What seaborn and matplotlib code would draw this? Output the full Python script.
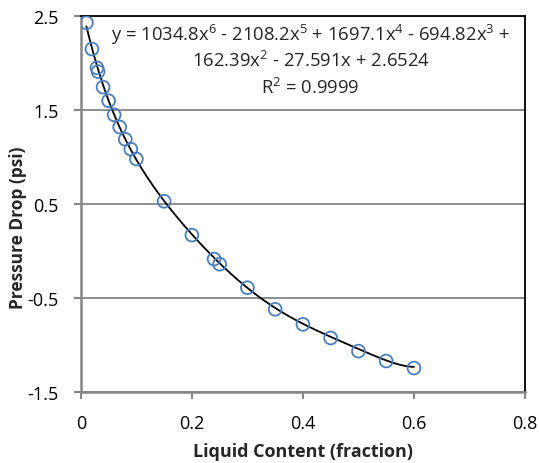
import numpy as np
import matplotlib.pyplot as plt
import seaborn as sns

sns.set_theme(style="white")
plt.rcParams['font.family'] = ['Open Sans', 'DejaVu Sans']
plt.rcParams['mathtext.fontset'] = 'custom'
plt.rcParams['mathtext.rm'] = 'Open Sans'
plt.rcParams['mathtext.it'] = 'Open Sans'

# datos
liquid = [0.01, 0.02, 0.029, 0.031, 0.04, 0.05, 0.06, 0.07, 0.08, 0.09, 0.10,
          0.15, 0.20, 0.24, 0.25, 0.30, 0.35, 0.40, 0.45, 0.50, 0.55, 0.60]
pressure = [2.43, 2.15, 1.95, 1.91, 1.745, 1.60, 1.45, 1.32, 1.19, 1.085, 0.98,
            0.53, 0.17, -0.085, -0.14, -0.39, -0.62, -0.78, -0.925, -1.065, -1.17, -1.245]

# coeficientes de la linea de tendencia (polinomio de orden 6)
coefs = [1034.8, -2108.2, 1697.1, -694.82, 162.39, -27.591, 2.6524]
eq_lines = ['y = 1034.8x$^{6}$ - 2108.2x$^{5}$ + 1697.1x$^{4}$ - 694.82x$^{3}$ +',
            '162.39x$^{2}$ - 27.591x + 2.6524',
            'R$^{2}$ = 0.9999']

fig = plt.figure(figsize=(5.39, 4.64), dpi=100)
ax = fig.add_axes([0.150, 0.153, 0.824, 0.810])

xs = np.linspace(min(liquid), max(liquid), 200)
sns.lineplot(x=xs, y=np.polyval(coefs, xs), color='black', linewidth=1.3, ax=ax)
sns.scatterplot(x=liquid, y=pressure, marker='o', s=85, facecolor='none',
                edgecolor='#4A7EBB', linewidth=1.3, ax=ax, zorder=3)

ax.set_xlim(0, 0.8)
ax.set_ylim(-1.5, 2.5)
ax.set_xticks([0, 0.2, 0.4, 0.6, 0.8])
ax.set_xticklabels(['0', '0.2', '0.4', '0.6', '0.8'])
ax.set_yticks([-1.5, -0.5, 0.5, 1.5, 2.5])
ax.set_yticklabels(['-1.5', '-0.5', '0.5', '1.5', '2.5'])
ax.tick_params(axis='both', labelsize=13, length=5, width=1.5, color='#868686',
               direction='out', bottom=True, left=True, labelcolor='black')
ax.tick_params(axis='y', pad=11)
ax.tick_params(axis='x', pad=11)
ax.yaxis.grid(True, color='#868686', linewidth=1.3)
ax.set_axisbelow(True)

for side in ['left', 'bottom']:
    ax.spines[side].set_color('#868686')
    ax.spines[side].set_linewidth(1.8)
for side in ['top', 'right']:
    ax.spines[side].set_color('black')
    ax.spines[side].set_linewidth(1.3)

ax.set_xlabel('Liquid Content (fraction)', fontsize=13, fontweight='bold', va='center')
ax.set_ylabel('Pressure Drop (psi)', fontsize=12.5, fontweight='bold', va='center')
ax.xaxis.set_label_coords(0.5, -0.157)
ax.yaxis.set_label_coords(-0.142, 0.44)

for i, line in enumerate(eq_lines):
    ax.text(0.414, 2.31 - i * 0.28, line, fontsize=13.3, ha='center', va='center')

fig.savefig('out.png', dpi=100)
